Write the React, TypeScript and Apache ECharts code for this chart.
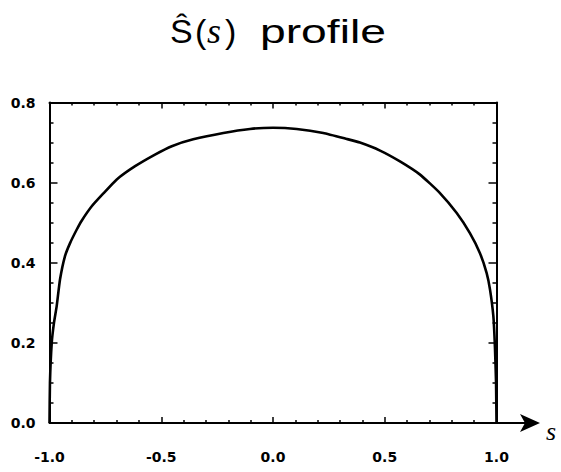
import { useEffect, useRef } from "react";
import * as echarts from "echarts";

// Profile samples: position s along the section and the profile height Ŝ(s)
const sValues = [
  -1.0, -0.998, -0.99, -0.98, -0.968, -0.953, -0.931, -0.908, -0.878, -0.856,
  -0.811, -0.759, -0.699, -0.617, -0.528, -0.453, -0.357, -0.222, -0.103, 0.0,
  0.106, 0.225, 0.33, 0.389, 0.479, 0.568, 0.658, 0.747, 0.822, 0.881, 0.926,
  0.956, 0.971, 0.986, 0.993, 0.998, 1.0,
];
const profileValues = [
  0.0, 0.1, 0.2, 0.25, 0.291, 0.358, 0.416, 0.449, 0.483, 0.505, 0.541, 0.573,
  0.608, 0.641, 0.67, 0.691, 0.708, 0.724, 0.734, 0.737, 0.734, 0.724, 0.709,
  0.7, 0.68, 0.653, 0.62, 0.574, 0.524, 0.474, 0.424, 0.374, 0.333, 0.266,
  0.19, 0.1, 0.0,
];

// Axis tick values
const xTickValues = [-1.0, -0.5, 0.0, 0.5, 1.0];
const yTickValues = [0.0, 0.2, 0.4, 0.6, 0.8];

const W = 561;
const H = 472;
const GRID = { left: 49.5, right: 64.5, top: 102.5, bottom: 49 };
const AXIS_Y = H - GRID.bottom;
const AXIS_RIGHT = W - GRID.right;

const labelFont = {
  fontFamily: "DejaVu Sans",
  fontWeight: "bold" as const,
  fontSize: 14,
  color: "#000",
};

// One piece of the heading, drawn as its own text element
function headingPart(
  text: string,
  x: number,
  opts: { serifItalic?: boolean; size?: number; scaleX?: number } = {}
) {
  return {
    type: "text",
    x,
    y: 31,
    scaleX: opts.scaleX ?? 1,
    style: {
      text,
      fontFamily: opts.serifItalic ? "Liberation Serif" : "Liberation Sans",
      fontStyle: opts.serifItalic ? "italic" : "normal",
      fontWeight: "normal",
      fontSize: opts.size ?? 34,
      fill: "#000",
      verticalAlign: "middle",
    },
  };
}

export default function App() {
  const ref = useRef<HTMLDivElement>(null);

  useEffect(() => {
    if (!ref.current) return;
    const chart = echarts.init(ref.current, undefined, { renderer: "svg" });

    const xMin = xTickValues[0];
    const xMax = xTickValues[xTickValues.length - 1];
    const xStep = xTickValues[1] - xTickValues[0];
    const yMin = yTickValues[0];
    const yMax = yTickValues[yTickValues.length - 1];
    const yStep = yTickValues[1] - yTickValues[0];

    const lineStyle = { color: "#000", width: 2 };

    const xBase = {
      type: "value" as const,
      min: xMin,
      max: xMax,
      interval: xStep,
      splitLine: { show: false },
      axisLine: { show: true, onZero: false, lineStyle },
      axisTick: { show: true, inside: true, length: 6, lineStyle: { color: "#000", width: 1.5 } },
      minorTick: { show: true, splitNumber: 5, length: 3, lineStyle: { color: "#000", width: 1.5 } },
    };
    const yBase = {
      type: "value" as const,
      min: yMin,
      max: yMax,
      interval: yStep,
      splitLine: { show: false },
      axisLine: { show: true, onZero: false, lineStyle },
      axisTick: { show: true, inside: true, length: 8, lineStyle: { color: "#000", width: 1.5 } },
      minorTick: { show: true, splitNumber: 4, length: 4, lineStyle: { color: "#000", width: 1.5 } },
    };

    chart.setOption({
      animation: false,
      backgroundColor: "#fff",
      grid: { ...GRID, containLabel: false },
      xAxis: [
        {
          ...xBase,
          position: "bottom",
          axisLabel: {
            ...labelFont,
            margin: 27,
            formatter: (v: number) => v.toFixed(1),
          },
        },
        { ...xBase, position: "top", axisLabel: { show: false } },
      ],
      yAxis: [
        {
          ...yBase,
          position: "left",
          axisLabel: {
            ...labelFont,
            margin: 14,
            formatter: (v: number) => v.toFixed(1),
          },
        },
        { ...yBase, position: "right", axisLabel: { show: false } },
      ],
      series: [
        {
          type: "line",
          xAxisIndex: 0,
          yAxisIndex: 0,
          data: sValues.map((s, i) => [s, profileValues[i]]),
          showSymbol: false,
          smooth: 0.15,
          lineStyle: { color: "#000", width: 2.6 },
        },
      ],
      graphic: [
        // heading: Ŝ(s)  profile
        headingPart("Ŝ", 170),
        headingPart("(", 195),
        headingPart("s", 207, { serifItalic: true, size: 36 }),
        headingPart(")", 225),
        headingPart("profile", 260, { scaleX: 1.36 }),
        // extension of the s axis with its arrowhead
        {
          type: "line",
          shape: { x1: AXIS_RIGHT, y1: AXIS_Y, x2: 528, y2: AXIS_Y },
          style: { stroke: "#000", lineWidth: 2 },
        },
        {
          type: "polygon",
          shape: {
            points: [
              [520, AXIS_Y - 9],
              [540, AXIS_Y],
              [520, AXIS_Y + 9],
              [525, AXIS_Y],
            ],
          },
          style: { fill: "#000" },
        },
        {
          type: "text",
          x: 546,
          y: 431,
          style: {
            text: "s",
            fontFamily: "Liberation Serif",
            fontStyle: "italic",
            fontSize: 26,
            fill: "#000",
            verticalAlign: "middle",
          },
        },
      ],
    });

    return () => chart.dispose();
  }, []);

  return (
    <div
      ref={ref}
      style={{ position: "absolute", left: 0, top: 0, width: W, height: H }}
    />
  );
}
